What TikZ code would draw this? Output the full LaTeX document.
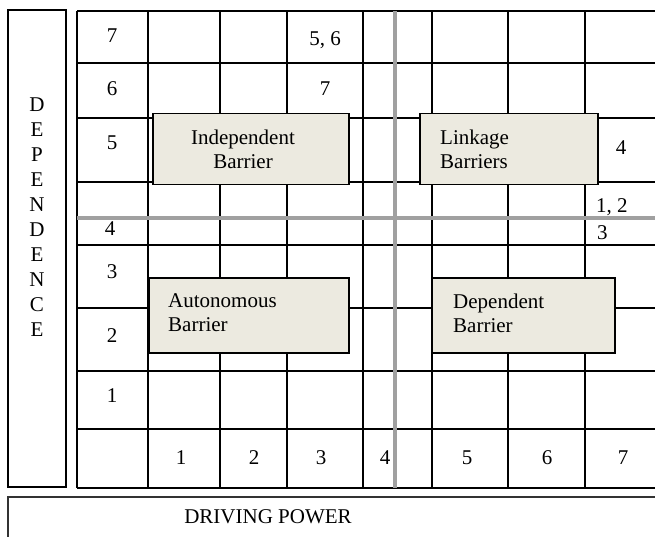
\documentclass[tikz,border=0pt]{standalone}
\usepackage{fontspec}
\setmainfont{Liberation Serif}
\definecolor{boxfill}{RGB}{236,234,224}
\definecolor{axisgray}{RGB}{160,160,160}
\begin{document}
\begin{tikzpicture}[x=1pt,y=-1pt,
  gridline/.style={line width=1.7pt, black},
  axisline/.style={line width=4pt, axisgray},
  frame/.style={line width=1.7pt, black},
  barrier/.style={draw=black, line width=1.5pt, fill=boxfill, inner sep=0pt, anchor=north west},
  num/.style={inner sep=0pt, font=\fontsize{21}{24}\selectfont},
  lbl/.style={inner sep=0pt, font=\fontsize{21}{24}\selectfont, align=left, anchor=west},
  clbl/.style={inner sep=0pt, font=\fontsize{21}{24}\selectfont, align=center},
]
\useasboundingbox (0,0) rectangle (655,537);

% DEPENDENCE frame
\draw[frame] (8,10) rectangle (66,487);
\node[inner sep=0pt, align=center, font=\fontsize{21}{25}\selectfont] (dep) at (37,217) {D\\E\\P\\E\\N\\D\\E\\N\\C\\E};

% DRIVING POWER frame
\draw[line width=1.2pt, black!80] (8,540) -- (8,497) -- (660,497);
\node[num] (drv) at (268,517) {DRIVING POWER};

% grid
\foreach \yy in {11,63,118,182,245,308,371,429,488}
  \draw[gridline] (77,\yy) -- (660,\yy);
\foreach \xx in {77,148,220,287,363,432,508,585}
  \draw[gridline] (\xx,11) -- (\xx,488);

% axis lines
\draw[axisline] (395,11) -- (395,488);
\draw[axisline] (77,218) -- (660,218);

% barrier boxes
\node[barrier, minimum width=196pt, minimum height=71pt] (indep) at (152,113) {};
\node[barrier, minimum width=178pt, minimum height=71pt] (link) at (419,113) {};
\node[barrier, minimum width=200pt, minimum height=75pt] (auto) at (148,277) {};
\node[barrier, minimum width=183pt, minimum height=75pt] (depb) at (431,277) {};

\node[clbl] (indept) at (243,149.5) {Independent\\Barrier};
\node[lbl] (linkt) at (440,149.5) {Linkage\\Barriers};
\node[lbl] (autot) at (168,312.5) {Autonomous\\Barrier};
\node[lbl] (depbt) at (453,313.5) {Dependent\\Barrier};

% row labels
\node[num] (r7) at (112,36) {7};
\node[num] (r6) at (112,89) {6};
\node[num] (r5) at (112,143) {5};
\node[num] (r4) at (110,229) {4};
\node[num] (r3) at (112,272) {3};
\node[num] (r2) at (112,336) {2};
\node[num] (r1) at (112,396) {1};

% column labels
\node[num] (c1) at (181,458) {1};
\node[num] (c2) at (254,458) {2};
\node[num] (c3) at (321,458) {3};
\node[num] (c4) at (385,458) {4};
\node[num] (c5) at (467,458) {5};
\node[num] (c6) at (547,458) {6};
\node[num] (c7) at (623,458) {7};

% entries
\node[num] (e56) at (325,40) {5, 6};
\node[num] (e7) at (325,89) {7};
\node[num] (e4) at (621,148) {4};
\node[num, anchor=west] (e12) at (596,207) {1, 2};
\node[num, anchor=west] (e3) at (597,233) {3};
\end{tikzpicture}
\end{document}
